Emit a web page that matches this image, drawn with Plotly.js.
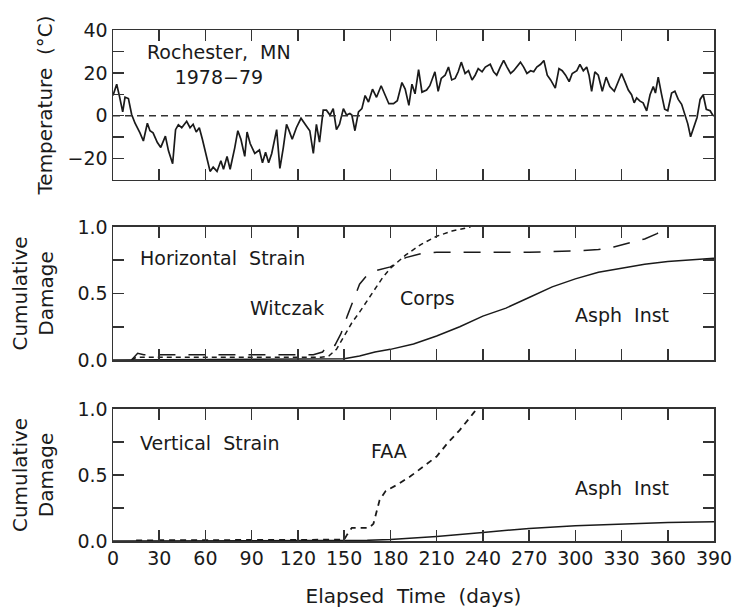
<!DOCTYPE html>
<html>
<head>
<meta charset="utf-8">
<script src="https://cdn.plot.ly/plotly-3.0.1.min.js"></script>
<style>html,body{margin:0;padding:0;background:#fff;}#chart{width:737px;height:614px;}</style>
</head>
<body>
<div id="chart"></div>
<script>
// ---------- data ----------
const dayTicks = [0, 30, 60, 90, 120, 150, 180, 210, 240, 270, 300, 330, 360, 390];

// Daily air temperature, Rochester MN 1978-79 (deg C)
const tempDays = [0, 2.4, 4.1, 6.3, 7.8, 10, 12.1, 14.3, 17.5, 19.7, 22.3, 24, 26, 28.8, 31, 34, 36, 38.7, 40.6, 42.4,
  44.6, 47.8, 50, 52, 54, 56, 58, 61, 63, 65, 67.5, 70, 71.7, 74, 76, 79, 81, 83, 85.5, 87,
  89, 92, 95, 97, 99, 101, 103, 106.2, 108.3, 110.5, 112.6, 114, 116.3, 119, 122, 125.6, 127.7, 130, 132, 134,
  136.4, 138.5, 140.8, 142.9, 145, 147, 149.5, 151.6, 153.7, 155, 157, 159.3, 161.5, 163.6, 165.8, 168.4, 171, 174, 176.6, 179,
  182, 184.5, 187.5, 189.6, 192, 194, 196, 198.3, 200.5, 203.5, 205.6, 208.9, 211, 213, 215.5, 217.7, 219.8, 222, 224, 226,
  228.5, 230.7, 233, 235, 237, 239.5, 241.6, 244.8, 247, 249, 251.3, 253.5, 255.7, 258, 260, 262, 264.4, 266.5, 268.6, 271,
  273, 275, 277.5, 279.6, 281.8, 284, 287, 289.4, 291.5, 293.7, 296, 298, 301, 303, 305.2, 307.4, 308.9, 310.6, 312.7, 314.9,
  317.5, 320, 322.4, 325.3, 328, 330, 332.2, 334.4, 336.5, 338.2, 339.8, 342, 344, 346.3, 348.5, 350.6, 352, 353.8, 356, 358,
  360, 362.5, 364.6, 366.8, 369, 371, 373, 374.8, 377, 379, 381, 383, 385, 387.5, 389.4];
const tempValues = [9.4, 14.7, 9.4, 1.8, 8.6, 8, 0.6, -3.5, -8, -11.8, -3.5, -7, -8, -12.5, -14.8, -9.5, -16.4, -22.4, -6.5, -4.2,
  -5.6, -2.6, -5.6, -4, -7.6, -5.6, -11, -19.4, -26, -24, -26, -21, -25, -19, -25, -15, -7, -11, -19, -7.6,
  -13, -17.6, -16, -22, -17, -22, -17.6, -6.5, -24.6, -15, -4, -6.5, -11, -5.6, -1.2, -4.9, -7, -17.6, -4, -12.3,
  2.6, 2.6, 0.3, 3.3, -6.5, -4, 3.3, 0.3, 1, 0.3, -7, 1.8, 3.3, 9.4, 6.4, 12.4, 8.6, 14, 9.4, 5.6,
  5.6, 7, 15.5, 12.4, 4.8, 14.7, 10.2, 21.5, 11, 12, 14, 20.5, 11.4, 17.4, 18.9, 22.7, 16.7, 17.4, 20.5, 25,
  19.7, 21, 16.7, 18.9, 22, 20.5, 22.7, 24, 20.5, 18.9, 22.7, 25.8, 22.7, 19.7, 21, 22.7, 25, 22.7, 19.7, 21,
  20.5, 22.7, 24, 25.8, 18.9, 16.7, 12.9, 22, 21, 18.9, 15.9, 19.7, 21, 24, 21, 22.7, 18.9, 11.4, 20.5, 18.9,
  11.4, 18, 13.6, 11.4, 15.9, 19.7, 15.9, 12, 9.8, 6, 8.3, 6.8, 6, 2.3, 9.8, 13.6, 10.6, 18, 9.8, 3,
  2.3, 10.6, 11.4, 7.6, 5.3, 0.8, -3.8, -9.8, -4.5, -0.8, 7.6, 9.8, 3, 2.3, 0];

// Horizontal strain - cumulative damage
const witczakDays = [12, 16, 20, 60, 100, 130, 136, 140, 144, 148, 152, 156, 160, 165, 170, 180, 190, 200, 210, 240, 270, 300, 315, 325, 335, 345, 353, 360];
const witczakValues = [0.0, 0.05, 0.04, 0.04, 0.04, 0.04, 0.06, 0.12, 0.11, 0.2, 0.33, 0.45, 0.57, 0.64, 0.67, 0.70, 0.77, 0.80, 0.81, 0.81, 0.81, 0.82, 0.83, 0.85, 0.88, 0.91, 0.95, 1.0];
const corpsDays = [12, 15, 30, 60, 90, 120, 135, 140, 145, 150, 155, 160, 165, 170, 175, 180, 190, 200, 210, 220, 232];
const corpsValues = [0.0, 0.02, 0.02, 0.02, 0.02, 0.02, 0.02, 0.03, 0.08, 0.18, 0.28, 0.36, 0.45, 0.54, 0.62, 0.69, 0.79, 0.87, 0.93, 0.97, 1.0];
const asphHDays = [0, 140, 150, 160, 170, 180, 195, 210, 225, 240, 255, 270, 285, 300, 315, 330, 345, 360, 375, 390];
const asphHValues = [0.0, 0.005, 0.01, 0.03, 0.06, 0.08, 0.12, 0.18, 0.25, 0.33, 0.39, 0.47, 0.55, 0.61, 0.66, 0.69, 0.72, 0.74, 0.755, 0.765];

// Vertical strain - cumulative damage
const faaDays = [15, 60, 120, 150, 152, 155, 160, 166, 169, 173, 177, 185, 193, 203, 210, 217, 225, 234, 236];
const faaValues = [0.005, 0.005, 0.005, 0.01, 0.05, 0.1, 0.1, 0.1, 0.13, 0.31, 0.38, 0.43, 0.49, 0.58, 0.64, 0.74, 0.84, 0.97, 1.0];
const faaTipDays = [236];
const faaTipValues = [1.1];
const asphVDays = [0, 150, 165, 180, 210, 240, 270, 300, 330, 360, 390];
const asphVValues = [0.0, 0.0, 0.005, 0.012, 0.035, 0.065, 0.095, 0.115, 0.13, 0.14, 0.145];

const tempTicks = [-30, -20, -10, 0, 10, 20, 30, 40];
const tempTickText = ['', '\u221220', '', '0', '', '20', '', '40'];
const dmgTicks = [0, 0.25, 0.5, 0.75, 1.0];
const dmgTickText = ['0.0', '', '0.5', '', '1.0'];

// ---------- styling ----------
const FONT = 'DejaVu Sans, Liberation Sans, sans-serif';
const INK = '#1a1a1a';
const AX = '#333';

function xAxis(showLabels) {
  return {
    range: [0, 390], tickvals: dayTicks, ticks: 'inside', ticklen: 11, tickwidth: 1.5, tickcolor: AX,
    showline: true, linecolor: AX, linewidth: 1.5, mirror: 'ticks', showgrid: false, zeroline: false,
    showticklabels: showLabels, tickfont: {family: FONT, size: 19, color: INK}
  };
}
function yAxis(range, vals, txt, title, domain, anchor, standoff) {
  return {
    range: range, tickvals: vals, ticktext: txt, ticks: 'inside', ticklen: 11, tickwidth: 1.5, tickcolor: AX,
    showline: true, linecolor: AX, linewidth: 1.5, mirror: 'ticks', showgrid: false, zeroline: false,
    tickfont: {family: FONT, size: 19, color: INK}, domain: domain, anchor: anchor,
    title: {text: title, font: {family: FONT, size: 20, color: INK}, standoff: standoff}
  };
}

const traces = [
  {x: tempDays, y: tempValues, xaxis: 'x3', yaxis: 'y3', mode: 'lines', line: {color: INK, width: 1.7}, name: 'Temperature'},
  {x: witczakDays, y: witczakValues, xaxis: 'x2', yaxis: 'y2', mode: 'lines', line: {color: INK, width: 1.5, dash: '17px,13px'}, name: 'Witczak'},
  {x: corpsDays, y: corpsValues, xaxis: 'x2', yaxis: 'y2', mode: 'lines', line: {color: INK, width: 1.5, dash: '5px,4px'}, name: 'Corps'},
  {x: asphHDays, y: asphHValues, xaxis: 'x2', yaxis: 'y2', mode: 'lines', line: {color: INK, width: 1.5}, name: 'Asph Inst'},
  {x: faaDays, y: faaValues, xaxis: 'x', yaxis: 'y', mode: 'lines', line: {color: INK, width: 1.8, dash: '6px,5px'}, name: 'FAA'},
  {x: faaTipDays, y: faaTipValues, xaxis: 'x', yaxis: 'y', mode: 'markers', marker: {color: INK, size: 3}, cliponaxis: false, name: 'FAA tip'},
  {x: asphVDays, y: asphVValues, xaxis: 'x', yaxis: 'y', mode: 'lines', line: {color: INK, width: 1.5}, name: 'Asph Inst'}
];

const annFont = {family: FONT, size: 19, color: INK};
const layout = {
  width: 737, height: 614,
  margin: {l: 113, r: 23, t: 20, b: 73},
  paper_bgcolor: '#fff', plot_bgcolor: '#fff',
  showlegend: false,
  xaxis: Object.assign(xAxis(true), {anchor: 'y',
    title: {text: 'Elapsed\u00a0\u00a0Time\u00a0\u00a0(days)', font: {family: FONT, size: 20, color: INK}, standoff: 20}}),
  xaxis2: Object.assign(xAxis(false), {anchor: 'y2'}),
  xaxis3: Object.assign(xAxis(false), {anchor: 'y3'}),
  yaxis: yAxis([0, 1], dmgTicks, dmgTickText, 'Cumulative<br>Damage', [0, 0.2534], 'x', 18),
  yaxis2: yAxis([0, 1], dmgTicks, dmgTickText, 'Cumulative<br>Damage', [0.3474, 0.6027], 'x2', 18),
  yaxis3: yAxis([-30, 40], tempTicks, tempTickText, 'Temperature\u00a0\u00a0(\u00b0C)', [0.6929, 0.9808], 'x3', 9),
  shapes: [
    {type: 'line', xref: 'x3 domain', yref: 'y3', x0: 0, x1: 1, y0: 0, y1: 0, line: {color: AX, width: 1.5, dash: '7px,5px'}}
  ],
  annotations: [
    {xref: 'x3', yref: 'y3', x: 69, y: 24, text: 'Rochester,\u00a0\u00a0MN<br>1978\u221279', showarrow: false, align: 'center', font: annFont},
    {xref: 'x2', yref: 'y2', x: 16, y: 0.77, text: 'Horizontal\u00a0\u00a0Strain', showarrow: false, xanchor: 'left', font: annFont},
    {xref: 'x2', yref: 'y2', x: 113, y: 0.39, text: 'Witczak', showarrow: false, font: annFont},
    {xref: 'x2', yref: 'y2', x: 204, y: 0.465, text: 'Corps', showarrow: false, font: annFont},
    {xref: 'x2', yref: 'y2', x: 330, y: 0.34, text: 'Asph\u00a0\u00a0Inst', showarrow: false, font: annFont},
    {xref: 'x', yref: 'y', x: 16, y: 0.745, text: 'Vertical\u00a0\u00a0Strain', showarrow: false, xanchor: 'left', font: annFont},
    {xref: 'x', yref: 'y', x: 179, y: 0.68, text: 'FAA', showarrow: false, font: annFont},
    {xref: 'x', yref: 'y', x: 330, y: 0.40, text: 'Asph\u00a0\u00a0Inst', showarrow: false, font: annFont}
  ]
};

Plotly.newPlot('chart', traces, layout, {staticPlot: true, displayModeBar: false});
</script>
</body>
</html>
